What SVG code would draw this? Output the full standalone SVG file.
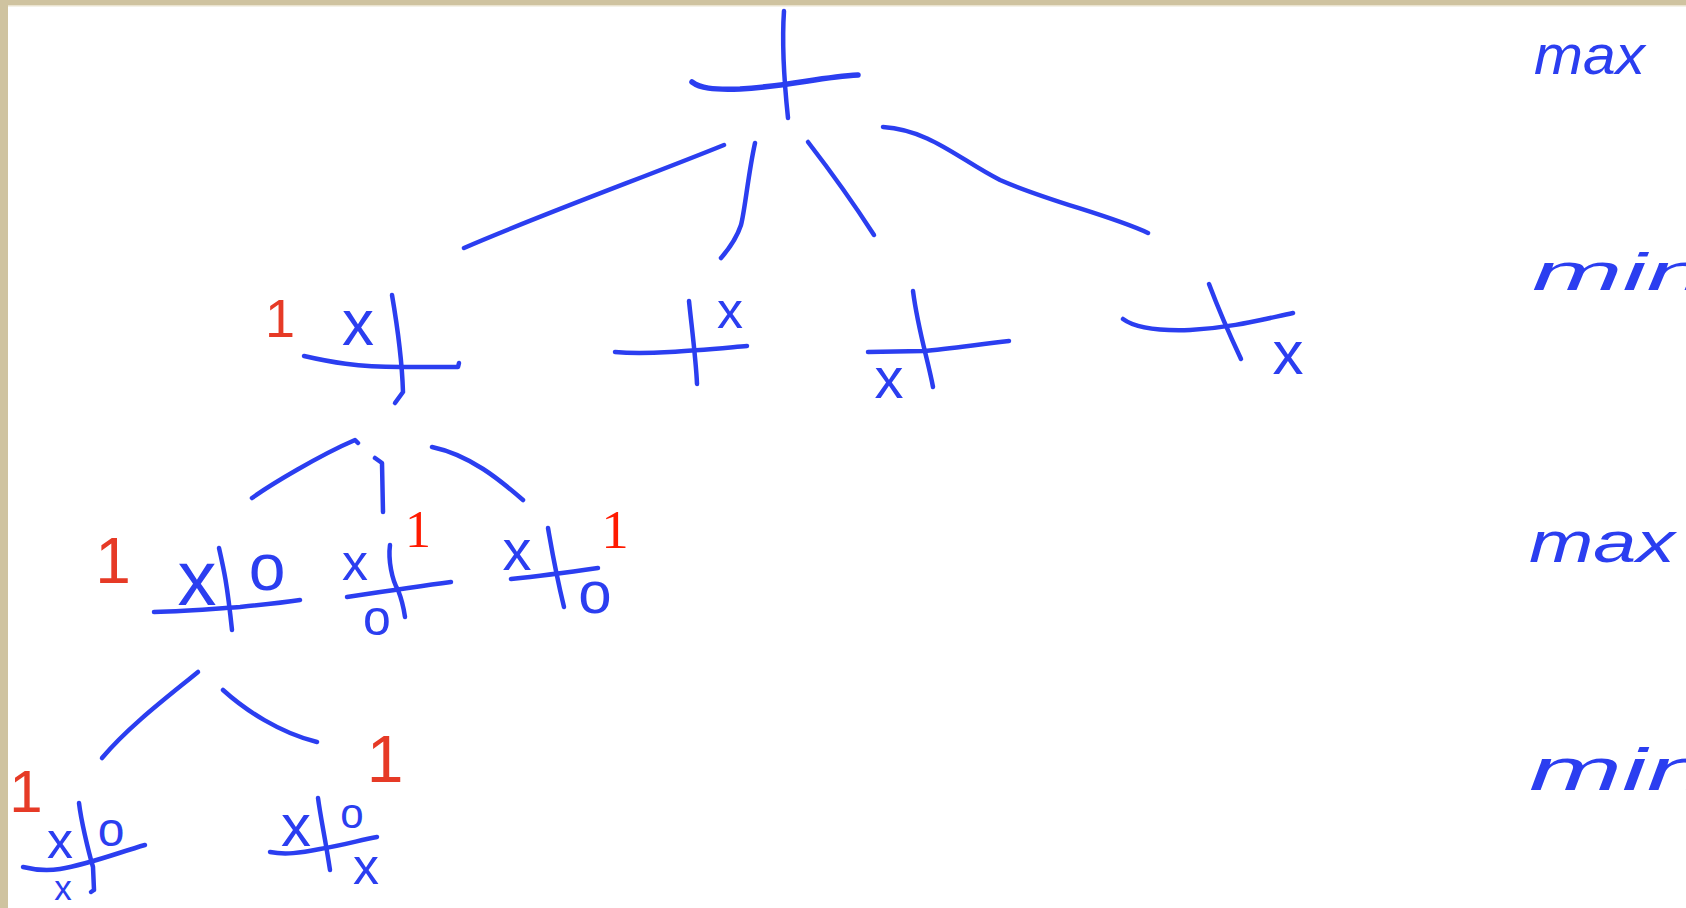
<svg xmlns="http://www.w3.org/2000/svg" width="1686" height="908" viewBox="0 0 1686 908">
<style>
.ln{fill:none;stroke:#2B3EF0;stroke-width:4.5;stroke-linecap:round;stroke-linejoin:round}
.mk{font-family:"Liberation Sans",Arial,sans-serif;fill:#2B3EF0;text-anchor:middle}
.r1{font-family:"Liberation Sans",Arial,sans-serif;fill:#E63A26;text-anchor:middle}
.s1{font-family:"Liberation Serif","Times New Roman",serif;fill:#FF1A00;text-anchor:middle}
.lv{font-family:"Liberation Sans",Arial,sans-serif;fill:#2B3EF0;font-style:italic}
</style>
<rect width="1686" height="908" fill="#FFFFFF"/>
<rect x="0" y="0" width="1686" height="5" fill="#CFC3A0"/>
<rect x="8" y="5" width="1678" height="1.5" fill="#EAE3CF"/>
<rect x="0" y="0" width="8" height="908" fill="#CFC3A0"/>

<g id="connectors">
<path class="ln" d="M724,145 C650,175 540,215 464,248"/>
<path class="ln" d="M755,143 C748,175 745,210 741,225 C736,240 728,250 721,258"/>
<path class="ln" d="M808,142 Q845,190 874,235"/>
<path class="ln" d="M883,127 C930,130 960,160 1000,180 C1050,202 1110,215 1148,233"/>
<path class="ln" d="M252,498 C270,485 320,455 355,440 L358,443"/>
<path class="ln" d="M375,458 L382,463 L383,512"/>
<path class="ln" d="M432,447 C470,455 500,480 523,500"/>
<path class="ln" d="M198,672 C170,695 130,725 102,758"/>
<path class="ln" d="M223,690 C245,710 280,733 317,742"/>
</g>

<g id="root">
<path class="ln" d="M784,11 C782,40 784,80 788,118"/>
<path class="ln" style="stroke-width:5.5" d="M692,82 C700,88 712,90 740,89 C790,86 820,77 858,75"/>
</g>

<g id="nodeA">
<path class="ln" d="M392,295 C398,330 402,360 403,392 L395,403"/>
<path class="ln" d="M304,356 C330,362 357,367 400,367 L458,367 L459,363"/>
<text class="mk" x="358" y="345" font-size="64">x</text>
<text class="r1" x="280" y="337" font-size="54">1</text>
</g>

<g id="nodeB">
<path class="ln" d="M689,301 C692,330 696,360 697,384"/>
<path class="ln" d="M615,352 C650,355 700,350 747,346"/>
<text class="mk" x="730" y="328" font-size="52">x</text>
</g>

<g id="nodeC">
<path class="ln" d="M913,291 C918,330 928,360 933,387"/>
<path class="ln" d="M868,352 L923,351 C950,349 980,344 1009,341"/>
<text class="mk" x="889" y="398" font-size="58">x</text>
</g>

<g id="nodeD">
<path class="ln" d="M1123,319 C1135,328 1160,331 1190,330 C1230,328 1260,320 1293,313"/>
<path class="ln" d="M1209,284 C1215,300 1225,325 1241,359"/>
<text class="mk" x="1288" y="374" font-size="62">x</text>
</g>

<g id="nodeE">
<path class="ln" d="M219,548 C224,570 227,583 232,630"/>
<path class="ln" d="M154,612 C190,611 223,608 240,607 C260,605 280,603 300,600"/>
<text class="mk" x="197" y="605" font-size="78">x</text>
<text class="mk" x="267" y="590" font-size="66">o</text>
<text class="r1" x="113" y="583" font-size="64">1</text>
</g>

<g id="nodeF">
<path class="ln" d="M390,545 C388,560 392,580 398,590 C402,600 404,610 405,617"/>
<path class="ln" d="M347,597 C380,592 420,586 451,582"/>
<text class="mk" x="355" y="580" font-size="52">x</text>
<text class="mk" x="377" y="635" font-size="50">o</text>
<text class="s1" x="418" y="547" font-size="52">1</text>
</g>

<g id="nodeG">
<path class="ln" d="M548,528 C551,545 555,570 564,607"/>
<path class="ln" d="M511,579 C540,576 570,572 598,568"/>
<text class="mk" x="517" y="570" font-size="58">x</text>
<text class="mk" x="595" y="613" font-size="60">o</text>
<text class="s1" x="615" y="548" font-size="55">1</text>
</g>

<g id="nodeH">
<path class="ln" d="M79,803 C81,820 88,850 93,867 L94,890 L91,892"/>
<path class="ln" d="M23,867 C35,870 47,871 60,869 C90,864 120,852 145,845"/>
<text class="mk" x="60" y="858" font-size="52">x</text>
<text class="mk" x="111" y="846" font-size="48">o</text>
<text class="mk" x="63" y="900" font-size="35">x</text>
<text class="r1" x="26" y="812" font-size="60">1</text>
</g>

<g id="nodeI">
<path class="ln" d="M318,798 C321,820 325,837 330,870"/>
<path class="ln" d="M270,852 C285,855 300,853 320,849 C345,845 360,840 377,837"/>
<text class="mk" x="296" y="846" font-size="60">x</text>
<text class="mk" x="352" y="828" font-size="42">o</text>
<text class="mk" x="366" y="884" font-size="52">x</text>
<text class="r1" x="385" y="782" font-size="66">1</text>
</g>

<g id="levels">
<text class="lv" x="1534" y="74" font-size="56" textLength="111" lengthAdjust="spacingAndGlyphs">max</text>
<text class="lv" x="1532" y="290" font-size="52" textLength="175" lengthAdjust="spacingAndGlyphs">min</text>
<text class="lv" x="1529" y="562" font-size="58" textLength="146" lengthAdjust="spacingAndGlyphs">max</text>
<text class="lv" x="1529" y="790" font-size="60" textLength="180" lengthAdjust="spacingAndGlyphs">min</text>
</g>
</svg>
